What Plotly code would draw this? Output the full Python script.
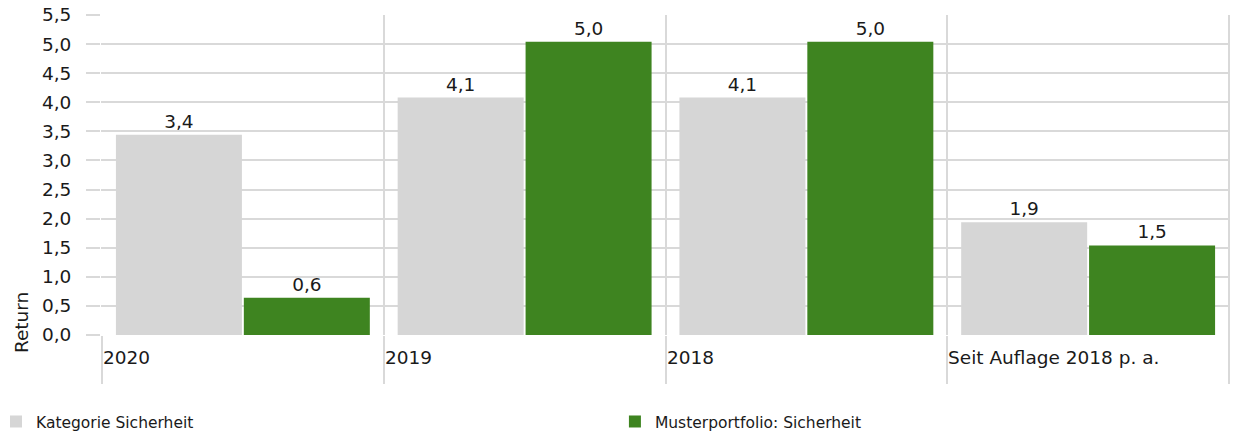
import plotly.graph_objects as go

categories = ["2020", "2019", "2018", "Seit Auflage 2018 p. a."]
kategorie = [3.44, 4.08, 4.08, 1.94]
muster = [0.64, 5.04, 5.04, 1.54]
series_names = ["Kategorie Sicherheit", "Musterportfolio: Sicherheit"]
y_ticks = [0, 0.5, 1, 1.5, 2, 2.5, 3, 3.5, 4, 4.5, 5, 5.5]

GRID = "#d9d9d9"
FONT = "DejaVu Sans, Verdana, sans-serif"
TXT = "#1a1a1a"
FS = 18.5

fig = go.Figure()
fig.add_trace(go.Bar(
    x=categories, y=kategorie, name=series_names[0],
    marker=dict(color="#d6d6d6", line=dict(width=0)),
    texttemplate="%{y:.1f}", textposition="outside",
    textfont=dict(size=FS, color=TXT, family=FONT), cliponaxis=False,
    legend="legend",
))
fig.add_trace(go.Bar(
    x=categories, y=muster, name=series_names[1],
    marker=dict(color="#3e8420", line=dict(width=0)),
    texttemplate="%{y:.1f}", textposition="outside",
    textfont=dict(size=FS, color=TXT, family=FONT), cliponaxis=False,
    legend="legend2",
))

for i, c in enumerate(categories):
    fig.add_annotation(
        x=i - 0.5, xref="x", y=-0.03, yref="paper",
        text=c, showarrow=False, xanchor="left", yanchor="top",
        xshift=-1,
        font=dict(size=FS, color=TXT, family=FONT),
    )

fig.add_annotation(
    x=-0.071, xref="paper", y=0.04, yref="paper", text="Return",
    textangle=-90, showarrow=False, xanchor="center", yanchor="middle",
    font=dict(size=FS, color=TXT, family=FONT),
)

# right-hand frame line of the grid
fig.add_shape(type="line", xref="x", yref="paper",
              x0=len(categories) - 0.5, x1=len(categories) - 0.5, y0=-0.15, y1=1,
              line=dict(color=GRID, width=2), layer="below")

legend_common = dict(
    orientation="h", y=-0.2716, xanchor="left", yanchor="middle",
    font=dict(size=15.5, color=TXT, family=FONT),
    itemwidth=30, bgcolor="rgba(0,0,0,0)",
)

fig.update_layout(
    width=1235, height=432,
    margin=dict(l=101, r=5, t=15, b=97, autoexpand=False),
    paper_bgcolor="white", plot_bgcolor="white",
    separators=", ",
    barmode="group", bargap=0.092, bargroupgap=0.015,
    font=dict(family=FONT, size=FS, color=TXT),
    showlegend=True,
    legend=dict(x=-0.093, **legend_common),
    legend2=dict(x=0.4552, **legend_common),
    xaxis=dict(
        type="category", tickson="boundaries", showticklabels=False,
        showgrid=True, gridcolor=GRID, gridwidth=2,
        ticks="outside", ticklen=48, tickcolor=GRID, tickwidth=2,
        showline=False, zeroline=False, automargin=False,
    ),
    yaxis=dict(
        range=[0, 5.5], tickvals=y_ticks, tickformat=".1f",
        showgrid=True, gridcolor=GRID, gridwidth=2,
        ticks="outside", ticklen=14, tickcolor=GRID, tickwidth=2,
        ticklabelstandoff=11,
        zeroline=False, showline=False, automargin=False,
        tickfont=dict(size=FS, color=TXT, family=FONT),
    ),
)

fig.write_html("out.html", config={"displayModeBar": False},
               post_script="document.body.style.margin='0';")
